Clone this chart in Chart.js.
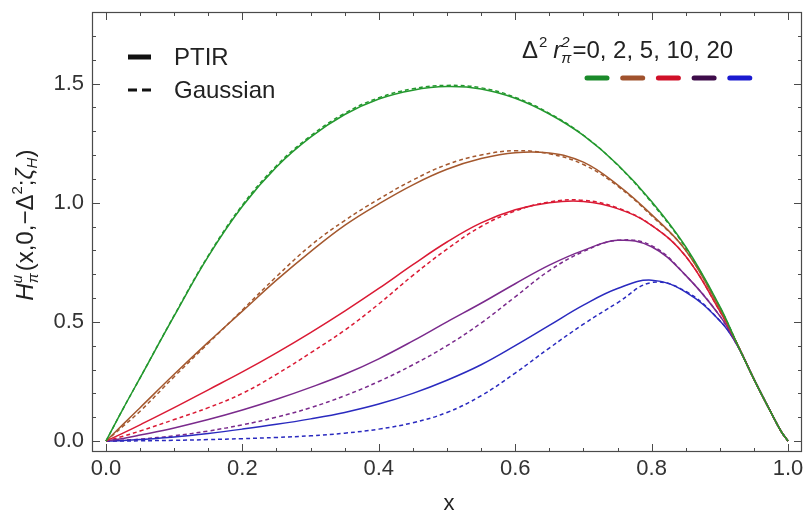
<!DOCTYPE html>
<html>
<head>
<meta charset="utf-8">
<script src="https://cdn.jsdelivr.net/npm/chart.js@4/dist/chart.umd.min.js"></script>
<style>
  html, body { margin: 0; padding: 0; background: #fff; }
  #wrap { width: 804px; height: 520px; position: relative; }
</style>
</head>
<body>
<div id="wrap"><canvas id="c" width="804" height="520"></canvas></div>
<script>
// ---- data ----
const xs = [0, 0.025, 0.05, 0.1, 0.15, 0.2, 0.25, 0.3, 0.35, 0.4, 0.45, 0.5, 0.55, 0.6, 0.65, 0.7, 0.75, 0.8, 0.85, 0.9, 0.925, 0.95, 0.975, 0.99, 1.0];

const ptir0   = [0, 0.135, 0.265, 0.525, 0.775, 0.985, 1.15, 1.275, 1.37, 1.435, 1.472, 1.487, 1.477, 1.438, 1.372, 1.282, 1.16, 1.005, 0.815, 0.565, 0.41, 0.26, 0.12, 0.04, 0];
const gauss0  = [0, 0.135, 0.265, 0.527, 0.778, 0.99, 1.155, 1.28, 1.375, 1.44, 1.478, 1.492, 1.482, 1.442, 1.375, 1.283, 1.158, 1.0, 0.81, 0.562, 0.41, 0.26, 0.12, 0.04, 0];

const ptir2   = [0, 0.07, 0.14, 0.28, 0.415, 0.545, 0.675, 0.795, 0.905, 0.995, 1.075, 1.14, 1.185, 1.21, 1.208, 1.17, 1.075, 0.95, 0.80, 0.555, 0.41, 0.26, 0.12, 0.04, 0];
const gauss2  = [0, 0.062, 0.125, 0.27, 0.41, 0.55, 0.69, 0.82, 0.925, 1.015, 1.095, 1.16, 1.20, 1.218, 1.205, 1.16, 1.07, 0.945, 0.80, 0.555, 0.41, 0.26, 0.12, 0.04, 0];

const ptir5   = [0, 0.033, 0.068, 0.14, 0.215, 0.29, 0.37, 0.455, 0.545, 0.64, 0.74, 0.835, 0.915, 0.97, 1.0, 1.005, 0.975, 0.905, 0.775, 0.545, 0.41, 0.26, 0.12, 0.04, 0];
const gauss5  = [0, 0.02, 0.042, 0.09, 0.14, 0.20, 0.28, 0.37, 0.465, 0.575, 0.695, 0.805, 0.90, 0.965, 1.003, 1.01, 0.978, 0.905, 0.775, 0.545, 0.41, 0.26, 0.12, 0.04, 0];

const ptir10  = [0, 0.011, 0.025, 0.055, 0.09, 0.13, 0.175, 0.225, 0.28, 0.345, 0.42, 0.50, 0.578, 0.66, 0.738, 0.80, 0.842, 0.815, 0.695, 0.525, 0.405, 0.26, 0.12, 0.04, 0];
const gauss10 = [0, 0.003, 0.008, 0.022, 0.042, 0.068, 0.10, 0.14, 0.19, 0.25, 0.32, 0.40, 0.495, 0.605, 0.715, 0.795, 0.842, 0.82, 0.695, 0.525, 0.405, 0.26, 0.12, 0.04, 0];

const ptir20  = [0, 0.002, 0.006, 0.017, 0.032, 0.05, 0.07, 0.093, 0.12, 0.155, 0.20, 0.255, 0.32, 0.40, 0.485, 0.57, 0.64, 0.675, 0.625, 0.505, 0.405, 0.26, 0.12, 0.04, 0];
const gauss20 = [0, 0.0, 0.001, 0.003, 0.006, 0.01, 0.015, 0.022, 0.033, 0.05, 0.077, 0.12, 0.19, 0.285, 0.39, 0.49, 0.58, 0.665, 0.628, 0.505, 0.405, 0.26, 0.12, 0.04, 0];

const deltaValues = ['0', '2', '5', '10', '20'];
const xTickValues = [0, 0.2, 0.4, 0.6, 0.8, 1.0];
const yTickValues = [0, 0.5, 1.0, 1.5];
const xTickLabels = ['0.0', '0.2', '0.4', '0.6', '0.8', '1.0'];
const yTickLabels = ['0.0', '0.5', '1.0', '1.5'];

// ---- styling ----
const colors = ['#23982e', '#a4582e', '#da1a34', '#7a2a8c', '#2a2abf'];
const swatchColors = ['#1a8a2a', '#a0522d', '#d01028', '#3e0c4a', '#1a1ad0'];
const FONT = '"Liberation Sans", Arial, Helvetica, sans-serif';
const ptirSeries = [ptir0, ptir2, ptir5, ptir10, ptir20];
const gaussSeries = [gauss0, gauss2, gauss5, gauss10, gauss20];

function pts(ys) { return xs.map((x, i) => ({ x: x, y: ys[i] })); }

const datasets = [];
ptirSeries.forEach((s, i) => datasets.push({
  label: 'PTIR ' + deltaValues[i], data: pts(s), borderColor: colors[i],
  borderWidth: 1.5, pointRadius: 0, fill: false, tension: 0.4
}));
gaussSeries.forEach((s, i) => datasets.push({
  label: 'Gaussian ' + deltaValues[i], data: pts(s), borderColor: colors[i],
  borderWidth: 1.5, borderDash: [4, 3], pointRadius: 0, fill: false, tension: 0.4
}));

// Frame with inward ticks on all sides, legends and rotated y title
const framePlugin = {
  id: 'frame',
  afterDraw(chart) {
    const ctx = chart.ctx, ca = chart.chartArea;
    const xa = chart.scales.x, ya = chart.scales.y;
    ctx.save();
    ctx.strokeStyle = '#4a4a4a';
    ctx.lineWidth = 1.2;
    ctx.strokeRect(ca.left + 0.5, ca.top + 0.5, ca.right - ca.left - 1, ca.bottom - ca.top - 1);
    ctx.lineWidth = 1;
    for (let k = 0; k <= 20; k++) {
      const v = k * 0.05;
      const px = Math.round(xa.getPixelForValue(v)) + 0.5;
      const L = (k % 4 === 0) ? 8 : 4;
      ctx.beginPath();
      ctx.moveTo(px, ca.bottom); ctx.lineTo(px, ca.bottom - L);
      ctx.moveTo(px, ca.top); ctx.lineTo(px, ca.top + L);
      ctx.stroke();
    }
    for (let k = 0; k <= 17; k++) {
      const v = k * 0.1;
      const py = Math.round(ya.getPixelForValue(v)) + 0.5;
      const L = (k % 5 === 0) ? 8 : 4;
      ctx.beginPath();
      ctx.moveTo(ca.left, py); ctx.lineTo(ca.left + L, py);
      ctx.moveTo(ca.right, py); ctx.lineTo(ca.right - L, py);
      ctx.stroke();
    }

    // left legend (line styles)
    ctx.fillStyle = '#222';
    ctx.strokeStyle = '#111';
    ctx.textBaseline = 'middle';
    ctx.font = '24px ' + FONT;
    const lx = ca.left + 36, ly1 = ca.top + 45, ly2 = ca.top + 78;
    ctx.lineWidth = 5; ctx.lineCap = 'butt';
    ctx.beginPath(); ctx.moveTo(lx, ly1); ctx.lineTo(lx + 23, ly1); ctx.stroke();
    ctx.lineWidth = 3;
    ctx.beginPath(); ctx.moveTo(lx, ly2); ctx.lineTo(lx + 9, ly2); ctx.moveTo(lx + 14, ly2); ctx.lineTo(lx + 23, ly2); ctx.stroke();
    ctx.fillText('PTIR', lx + 46, ly1 + 1);
    ctx.fillText('Gaussian', lx + 46, ly2 + 1);

    // right legend: Δ² r_π² = 0, 2, 5, 10, 20
    let tx = ca.left + 430, ty = ca.top + 39;
    ctx.fillStyle = '#222';
    ctx.font = '24px ' + FONT;
    ctx.fillText('\u0394', tx, ty); tx += ctx.measureText('\u0394').width + 1;
    ctx.font = '15px ' + FONT;
    ctx.fillText('2', tx, ty - 8); tx += ctx.measureText('2').width + 6;
    ctx.font = 'italic 24px ' + FONT;
    ctx.fillText('r', tx, ty); tx += ctx.measureText('r').width;
    ctx.font = 'italic 15px ' + FONT;
    ctx.fillText('2', tx, ty - 8);
    ctx.fillText('\u03c0', tx, ty + 8);
    tx += ctx.measureText('\u03c0').width + 1;
    ctx.font = '24px ' + FONT;
    ctx.fillText('=0, 2, 5, 10, 20', tx, ty);

    // colour swatches
    ctx.lineWidth = 5; ctx.lineCap = 'round';
    const sx0 = ca.left + 495, sy = ca.top + 66;
    swatchColors.forEach((c, i) => {
      ctx.strokeStyle = c;
      ctx.beginPath();
      ctx.moveTo(sx0 + i * 35.7, sy); ctx.lineTo(sx0 + i * 35.7 + 20, sy);
      ctx.stroke();
    });

    // rotated y-axis title: H^u_π(x,0,−Δ²;ζ_H)
    ctx.save();
    ctx.translate(26, 226);
    ctx.rotate(-Math.PI / 2);
    ctx.fillStyle = '#222';
    ctx.textBaseline = 'middle';
    const parts = [
      { t: 'H', f: 'italic 24px', dy: 0 },
      { t: 'u', f: 'italic 15px', dy: -8, stack: '\u03c0' },
      { t: '(x,0,\u2212\u0394', f: '24px', dy: 0 },
      { t: '2', f: '15px', dy: -8 },
      { t: ';', f: '24px', dy: 0 },
      { t: '\u03b6', f: 'italic 24px', dy: 0 },
      { t: 'H', f: 'italic 15px', dy: 7 },
      { t: ')', f: '24px', dy: 0 }
    ];
    let total = 0;
    parts.forEach(p => { ctx.font = p.f + ' ' + FONT; total += ctx.measureText(p.t).width + (p.stack ? 2 : 0); });
    let px = -total / 2;
    parts.forEach(p => {
      ctx.font = p.f + ' ' + FONT;
      ctx.fillText(p.t, px, p.dy);
      let w = ctx.measureText(p.t).width;
      if (p.stack) {
        ctx.fillText(p.stack, px, 8);
        w = Math.max(w, ctx.measureText(p.stack).width) + 2;
      }
      px += w;
    });
    ctx.restore();

    // x-axis title
    ctx.font = '22px ' + FONT;
    ctx.fillStyle = '#222';
    ctx.textAlign = 'center';
    ctx.fillText('x', (ca.left + ca.right) / 2 + 2, 504);
    ctx.restore();
  }
};

new Chart(document.getElementById('c'), {
  type: 'line',
  data: { datasets: datasets },
  options: {
    responsive: false,
    animation: false,
    events: [],
    layout: { padding: { left: 0, right: 2, top: 12, bottom: 0 } },
    plugins: { legend: { display: false }, tooltip: { enabled: false } },
    scales: {
      x: {
        type: 'linear', min: -0.0205, max: 1.0205,
        afterBuildTicks: s => { s.ticks = xTickValues.map(v => ({ value: v })); },
        afterFit: s => { s.height = 68; s.paddingLeft = 0; s.paddingRight = 0; },
        grid: { display: false, drawTicks: false },
        border: { display: false },
        ticks: {
          padding: 4, color: '#333', font: { family: FONT, size: 22 },
          maxRotation: 0, autoSkip: false,
          callback: (v) => xTickLabels[xTickValues.indexOf(v)] ?? ''
        }
      },
      y: {
        type: 'linear', min: -0.046, max: 1.80,
        afterBuildTicks: s => { s.ticks = yTickValues.map(v => ({ value: v })); },
        afterFit: s => { s.width = 92; s.paddingTop = 0; s.paddingBottom = 0; },
        grid: { display: false, drawTicks: false },
        border: { display: false },
        ticks: {
          padding: 8, color: '#333', font: { family: FONT, size: 22 },
          autoSkip: false,
          callback: (v) => yTickLabels[yTickValues.indexOf(v)] ?? ''
        }
      }
    }
  },
  plugins: [framePlugin]
});
</script>
</body>
</html>
